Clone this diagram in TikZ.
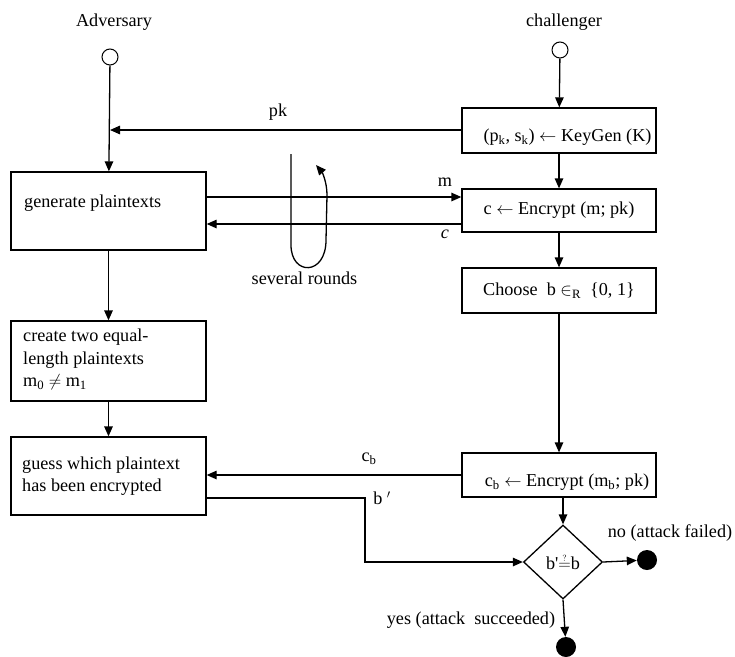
\documentclass[tikz,border=0pt]{standalone}
\usepackage{fontspec}
\setmainfont{Liberation Serif}
\usetikzlibrary{arrows.meta,shapes.geometric}

\tikzset{
  every node/.style={font=\fontsize{18.2}{21}\selectfont, inner sep=0pt},
  flow/.style={line width=1.3pt, -{Triangle[length=10pt,width=8.5pt]}},
  box/.style={draw, line width=1.3pt, minimum width=194pt},
  lbox/.style={draw, line width=1.3pt, minimum width=195pt},
  start/.style={draw, circle, line width=1pt, minimum size=16pt, fill=white},
  stop/.style={circle, fill=black, minimum size=20pt},
  decide/.style={draw, diamond, line width=1.3pt, minimum width=79pt, minimum height=74pt},
}

\begin{document}
\begin{tikzpicture}[x=1pt, y=-1pt]
\useasboundingbox (0,0) rectangle (735,656);

% actors
\node (advlbl) at (114,22) {Adversary};
\node (chllbl) at (564,22) {challenger};
\node[start] (advs) at (110,57) {};
\node[start] (chls) at (560,50) {};

% challenger column
\node[box, minimum height=45pt] (keygen) at (559,130.5) {};
\node (keygentxt) at (567.5,137) {(p\textsubscript{k}, s\textsubscript{k}) $\leftarrow$ KeyGen (K)};
\node[box, minimum height=43pt] (enc) at (559,210.5) {c $\leftarrow$ Encrypt (m; pk)};
\node[box, minimum height=45pt] (choose) at (559,290.5) {Choose\ \ b $\in_{\mathrm{R}}$\ \ \{0, 1\}};
\node[box, minimum height=44pt] (cbenc) at (559,475) {};
\node (cbenctxt) at (567,482) {c\textsubscript{b} $\leftarrow$ Encrypt (m\textsubscript{b}; pk)};
\node[decide] (check) at (563,562) {b\textquotesingle$\stackrel{\scriptscriptstyle ?}{=}$b};
\node[stop] (nodot) at (647,560) {};
\node[stop] (yesdot) at (566,647) {};

% adversary column
\node[lbox, minimum height=78pt] (gen) at (108.5,211) {};
\node[anchor=west] (gentxt) at (24,203) {generate plaintexts};
\node[lbox, minimum height=80pt] (create) at (108.5,361) {};
\node[anchor=north west, align=left, font=\fontsize{18.2}{22.5}\selectfont] (createtxt) at (23,329)
  {create two equal-\\length plaintexts\\m\textsubscript{0} $\neq$ m\textsubscript{1}};
\node[lbox, minimum height=78pt] (guess) at (108.5,476) {};
\node[anchor=north west, align=left, font=\fontsize{18.2}{22}\selectfont] (guesstxt) at (22,457)
  {guess which plaintext\\has been encrypted};

% vertical flow
\draw[flow] (chls) -- (keygen);
\draw[flow] (keygen) -- (enc);
\draw[flow] (enc) -- (choose);
\draw[flow] (choose) -- (cbenc);
\draw[flow] (cbenc.south -| check.north) -- (check.north);
\draw[flow] (advs) -- (gen);
\draw[flow] (gen) -- (create);
\draw[flow] (create) -- (guess);

% messages between the parties
\coordinate (pkend) at (110,130);
\draw[flow] (keygen.west |- pkend) -- (pkend);
\node (pklbl) at (278,112) {pk};

\draw[flow] (gen.east |- 0,197) -- (enc.west |- 0,197);
\node (mlbl) at (445,182) {m};
\draw[flow] (enc.west |- 0,224) -- (gen.east |- 0,224);
\node (clbl) at (445,234) {\textit{c}};

\draw[flow] (cbenc.west |- 0,475) -- (guess.east |- 0,475);
\node (cblbl) at (369,459) {c\textsubscript{b}};

\coordinate (bturn) at (365,498);
\draw[flow] (guess.east |- bturn) -- (bturn) |- (check.west);
\node (bplbl) at (382,498) {b $'$};

% repeated rounds
\draw[flow] (291,154) -- (291,245) .. controls (291,276) and (326,276) .. (326,240)
  -- (327,195) .. controls (327,182) and (322,172) .. (316,165);
\node (roundslbl) at (304.5,278) {several rounds};

% outcomes
\draw[flow] (check.east) -- (nodot);
\node (nolbl) at (670,533) {no (attack failed)};
\draw[flow] (check.south) -- (yesdot);
\node (yeslbl) at (471,620) {yes (attack\ \ succeeded)};
\end{tikzpicture}
\end{document}
